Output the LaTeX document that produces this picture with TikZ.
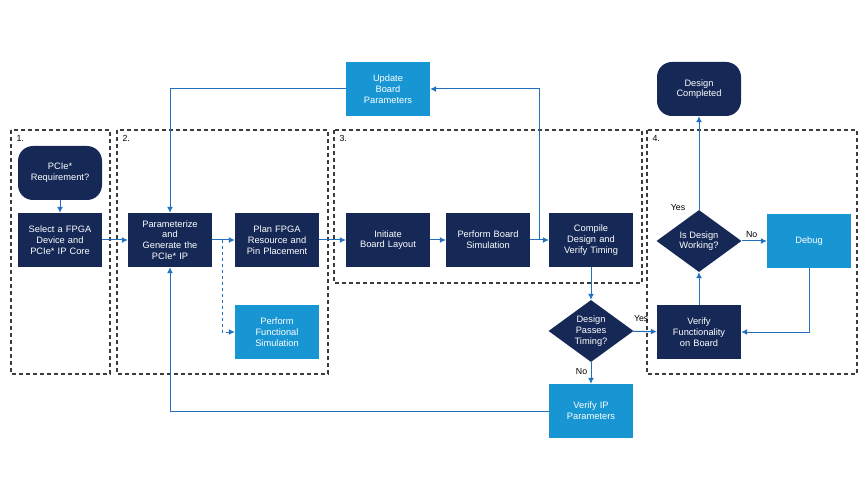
\documentclass[tikz,border=0pt]{standalone}
\usepackage{fontspec}
\setmainfont{Liberation Sans}
\usepackage{tikz}
\usetikzlibrary{arrows.meta,shapes.geometric}
\definecolor{navy}{RGB}{21,40,86}
\definecolor{sky}{RGB}{24,150,212}
\definecolor{wire}{RGB}{34,112,192}
\definecolor{frame}{RGB}{60,60,60}
\tikzstyle{task}=[rectangle, fill=navy, text=white, minimum width=84pt, minimum height=54pt,
  text width=80pt, align=center, inner sep=2pt, font=\fontsize{9.3}{10.7}\selectfont]
\tikzstyle{lighttask}=[task, fill=sky]
\tikzstyle{terminal}=[task, rounded corners=15pt]
\tikzstyle{decision}=[diamond, fill=navy, text=white, minimum width=85pt, minimum height=62pt,
  inner sep=0pt, aspect=1.4, align=center, font=\fontsize{9.3}{10.7}\selectfont]
\tikzstyle{phase}=[draw=frame, line width=1.1pt, dash pattern=on 4pt off 3pt]
\tikzstyle{flow}=[-{Latex[length=6pt,width=6pt]}, color=wire, line width=1pt]
\tikzstyle{tag}=[font=\fontsize{8.8}{9}\selectfont, text=black]

\begin{document}
\begin{tikzpicture}[x=1pt,y=-1pt]
  \useasboundingbox (0,0) rectangle (864,486);
  % phases
  \draw[phase] (11,130) rectangle (110,374);
  \draw[phase] (117,130) rectangle (328,374);
  \draw[phase] (334,130) rectangle (642,283);
  \draw[phase] (647,130) rectangle (857,374);
  \node[tag, anchor=north west] (p1) at (13,132) {1.};
  \node[tag, anchor=north west] (p2) at (119,132) {2.};
  \node[tag, anchor=north west] (p3) at (336,132) {3.};
  \node[tag, anchor=north west] (p4) at (649,132) {4.};
  % steps
  \node (Req) [terminal] at (60,173) {PCIe*\\Requirement?};
  \node (Select) [task] at (60,240) {Select a FPGA\\Device and\\PCIe* IP Core};
  \node (Param) [task] at (170,240) {Parameterize\\and\\Generate the\\PCIe* IP};
  \node (Plan) [task] at (277,240) {Plan FPGA\\Resource and\\Pin Placement};
  \node (FuncSim) [lighttask] at (277,332) {Perform\\Functional\\Simulation};
  \node (Update) [lighttask] at (388,89) {Update\\Board\\Parameters};
  \node (Init) [task] at (388,240) {Initiate\\Board Layout};
  \node (BoardSim) [task] at (488,240) {Perform Board\\Simulation};
  \node (Compile) [task] at (591,240) {Compile\\Design and\\Verify Timing};
  \node (Passes) [decision] at (591,331) {Design\\Passes\\Timing?};
  \node (VerifyIP) [lighttask] at (591,411) {Verify IP\\Parameters};
  \node (Done) [terminal] at (699,89) {Design\\Completed};
  \node (Working) [decision] at (699,241) {Is Design\\Working?};
  \node (Debug) [lighttask] at (809,241) {Debug};
  \node (VerifyFn) [task] at (699,332) {Verify\\Functionality\\on Board};
  \coordinate (fork1) at (222,240);
  \coordinate (fork2) at (539,240);
  % flow
  \path[flow]
  (Req) edge (Select)
  (Select) edge (Param)
  (Param) edge (Plan)
  (Plan) edge (Init)
  (Init) edge (BoardSim)
  (BoardSim) edge (Compile)
  (Compile) edge (Passes)
  (Passes) edge node[tag, anchor=south west, pos=0, xshift=-3pt, yshift=6pt] {Yes} (VerifyFn)
  (Passes) edge node[tag, left, pos=0.45] {No} (VerifyIP)
  (VerifyFn) edge (Working)
  (Working) edge node[tag, above, pos=0.4] {No} (Debug)
  (Working) edge node[tag, left=10pt, pos=0.02] {Yes} (Done);
  \draw[flow, dashed] (fork1) |- (FuncSim);
  \draw[flow] (fork2) |- (Update);
  \draw[flow] (Update) -| (Param);
  \draw[flow] (VerifyIP) -| (Param);
  \draw[flow] (Debug) |- (VerifyFn);
\end{tikzpicture}
\end{document}
